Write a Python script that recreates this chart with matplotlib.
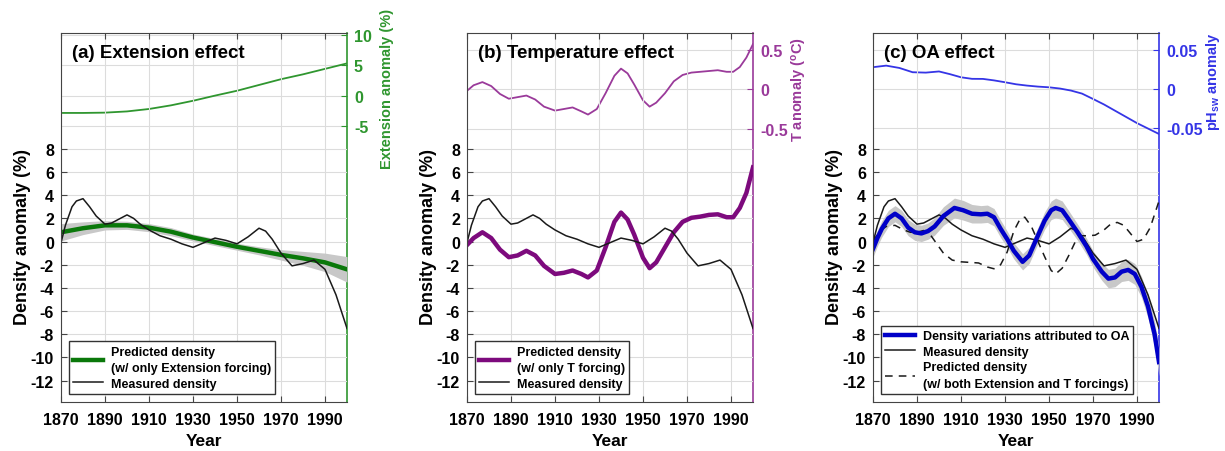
import numpy as np
import matplotlib
matplotlib.use('Agg')
import matplotlib.pyplot as plt

plt.rcParams['font.family'] = ['Liberation Sans', 'DejaVu Sans']
plt.rcParams['font.weight'] = 'bold'
plt.rcParams['axes.labelweight'] = 'bold'
plt.rcParams['axes.unicode_minus'] = False
plt.rcParams['mathtext.fontset'] = 'custom'
plt.rcParams['mathtext.rm'] = 'Liberation Sans:bold'
plt.rcParams['mathtext.bf'] = 'Liberation Sans:bold'
plt.rcParams['mathtext.it'] = 'Liberation Sans:bold'

# measured density (same in all panels)
meas_yr = [1870, 1872, 1875, 1877, 1880, 1883, 1886, 1890, 1893, 1896, 1900, 1903, 1906,
           1910, 1915, 1920, 1925, 1930, 1935, 1940, 1945, 1950, 1955, 1960, 1963, 1966,
           1970, 1975, 1980, 1985, 1990, 1995, 2000]
meas = [-0.1, 1.4, 3.0, 3.5, 3.7, 3.0, 2.2, 1.5, 1.6, 1.9, 2.3, 2.0, 1.5,
        1.0, 0.5, 0.2, -0.2, -0.5, -0.1, 0.3, 0.1, -0.2, 0.4, 1.15, 0.9, 0.2,
        -1.0, -2.1, -1.9, -1.6, -2.4, -4.6, -7.5]

# (a) extension effect
ext_yr = [1870, 1880, 1890, 1900, 1910, 1920, 1930, 1940, 1950, 1960, 1970, 1980, 1990, 2000]
ext_anom = [-2.85, -2.85, -2.8, -2.6, -2.2, -1.6, -0.85, 0.0, 0.8, 1.75, 2.7, 3.5, 4.4, 5.3]
ext_dens = [0.8, 1.15, 1.4, 1.4, 1.2, 0.85, 0.35, -0.05, -0.45, -0.8, -1.15, -1.45, -1.8, -2.4]
ext_err = [0.75, 0.55, 0.4, 0.35, 0.35, 0.35, 0.3, 0.3, 0.3, 0.35, 0.45, 0.6, 0.8, 1.1]

# (b) temperature effect
t_yr = [1870, 1873, 1877, 1881, 1885, 1889, 1893, 1897, 1901, 1905, 1910, 1914, 1918, 1922,
        1925, 1929, 1933, 1937, 1940, 1943, 1946, 1950, 1953, 1956, 1960, 1964, 1968,
        1972, 1976, 1980, 1984, 1988, 1991, 1994, 1997, 2000]
t_anom = [-0.02, 0.05, 0.09, 0.04, -0.06, -0.12, -0.1, -0.08, -0.13, -0.22, -0.27, -0.25,
          -0.23, -0.28, -0.32, -0.25, -0.05, 0.17, 0.26, 0.2, 0.06, -0.14, -0.22, -0.17,
          -0.05, 0.1, 0.18, 0.21, 0.22, 0.23, 0.24, 0.22, 0.22, 0.28, 0.4, 0.57]
t_dens = [-0.3, 0.3, 0.8, 0.3, -0.7, -1.35, -1.2, -0.8, -1.2, -2.1, -2.8, -2.7, -2.5, -2.8,
          -3.1, -2.5, -0.5, 1.7, 2.5, 1.9, 0.6, -1.4, -2.3, -1.8, -0.5, 0.8, 1.7, 2.05,
          2.15, 2.3, 2.35, 2.1, 2.1, 2.9, 4.2, 6.4]

# (c) OA effect
ph_yr = [1870, 1876, 1882, 1888, 1894, 1900, 1905, 1910, 1915, 1920, 1925, 1930, 1935,
         1940, 1945, 1950, 1955, 1960, 1965, 1970, 1975, 1980, 1985, 1990, 1995, 2000]
ph_anom = [0.028, 0.030, 0.027, 0.0215, 0.021, 0.0225, 0.019, 0.015, 0.013, 0.0129, 0.011,
           0.0086, 0.006, 0.0043, 0.003, 0.0021, 0.0005, -0.0021, -0.006, -0.0129, -0.02,
           -0.028, -0.036, -0.044, -0.051, -0.058]
oa_yr = [1870, 1872, 1874, 1877, 1880, 1883, 1886, 1889, 1892, 1895, 1898, 1902, 1907, 1911,
         1915, 1919, 1922, 1925, 1928, 1931, 1934, 1938, 1941, 1944, 1948, 1951, 1953, 1956,
         1959, 1963, 1967, 1970, 1974, 1977, 1980, 1983, 1986, 1989, 1992, 1995, 1998, 2000]
oa_dens = [-0.63, 0.3, 1.1, 2.0, 2.4, 2.0, 1.2, 0.8, 0.7, 0.9, 1.3, 2.2, 2.9, 2.7,
           2.4, 2.35, 2.4, 2.1, 1.1, 0.2, -0.8, -1.75, -1.2, 0.1, 1.8, 2.7, 2.9, 2.7,
           1.9, 0.8, -0.4, -1.5, -2.6, -3.2, -3.1, -2.6, -2.45, -2.8, -3.9, -5.6, -8.0, -10.4]
oa_err = [0.7, 0.7, 0.7, 0.7, 0.7, 0.7, 0.7, 0.7, 0.7, 0.7, 0.75, 0.8, 0.85, 0.85,
          0.8, 0.75, 0.75, 0.75, 0.75, 0.7, 0.7, 0.7, 0.7, 0.7, 0.75, 0.8, 0.85, 0.8,
          0.75, 0.7, 0.7, 0.7, 0.75, 0.8, 0.8, 0.85, 0.9, 0.9, 0.9, 1.0, 1.1, 1.2]
both_yr = [1870, 1873, 1876, 1880, 1884, 1887, 1890, 1893, 1896, 1899, 1902, 1906, 1910,
           1914, 1918, 1922, 1925, 1928, 1931, 1934, 1937, 1939, 1942, 1945, 1948, 1951,
           1953, 1956, 1959, 1962, 1965, 1968, 1971, 1975, 1978, 1981, 1984, 1987, 1990,
           1993, 1996, 2000]
both_dens = [0.0, 0.9, 1.3, 1.4, 1.0, 0.8, 0.8, 0.95, 0.6, -0.2, -1.0, -1.6, -1.75,
             -1.8, -1.85, -2.2, -2.35, -2.0, -0.9, 0.9, 2.0, 2.1, 1.3, 0.0, -1.3, -2.5,
             -2.8, -2.3, -1.2, 0.0, 0.5, 0.5, 0.55, 1.0, 1.5, 1.65, 1.4, 0.7, 0.0,
             0.2, 1.2, 3.5]

left_ticks = list(range(-12, 10, 2))
year_ticks = list(range(1870, 2001, 20))

fig = plt.figure(figsize=(12.25, 4.52), dpi=100)
lefts = [61 / 1225, 467 / 1225, 873 / 1225]
W, B, H = 286 / 1225, 49 / 452, 369 / 452
axes = [fig.add_axes([l, B, W, H]) for l in lefts]

panels = [
    dict(title='(a) Extension effect', col='#2f962f', thick='#0a780a', ylim2=(-50.4, 10.3),
         ticks2=[-5, 0, 5, 10], tlab2=['-5', '0', '5', '10'], lab2='Extension anomaly (%)',
         labx=1.117, laby=0.85),
    dict(title='(b) Temperature effect', col='#9a3a9a', thick='#7d0a7d', ylim2=(-3.95, 0.71),
         ticks2=[-0.5, 0, 0.5], tlab2=['-0.5', '0', '0.5'], lab2=r'T anomaly ($^{\mathbf{o}}$C)',
         labx=1.13, laby=0.85),
    dict(title='(c) OA effect', col='#3535e6', thick='#0000c8', ylim2=(-0.403, 0.072),
         ticks2=[-0.05, 0, 0.05], tlab2=['-0.05', '0', '0.05'], lab2=r'pH$_{\mathbf{sw}}$ anomaly',
         labx=1.157, laby=0.87),
]

legend_kw = dict(loc='lower left', bbox_to_anchor=(0.027, 0.022), borderaxespad=0,
                 fontsize=9, handlelength=2.4, handletextpad=0.6, fancybox=False,
                 edgecolor='#333333', framealpha=1, labelspacing=0.3, borderpad=0.35)

for i, (ax, p) in enumerate(zip(axes, panels)):
    ax2 = ax.twinx()
    ax.set_zorder(1)
    ax.patch.set_visible(False)
    ax2.set_zorder(0)

    ax.set_xlim(1870, 2000)
    ax.set_ylim(-13.85, 18)
    ax.set_yticks(left_ticks)
    ax.set_xticks(year_ticks)
    ax.grid(color='#dcdcdc', lw=0.8)
    ax.set_axisbelow(True)
    ax.tick_params(direction='in', top=True, labelsize=11.5, length=4, color='#444444')
    ax.tick_params(axis='x', pad=7)
    ax.tick_params(axis='y', pad=5)
    for s in ['left', 'top', 'bottom']:
        ax.spines[s].set_color('#444444')
    ax.spines['right'].set_visible(False)

    ax2.set_ylim(*p['ylim2'])
    ax2.set_yticks(p['ticks2'])
    ax2.set_yticklabels(p['tlab2'])
    ax2.grid(axis='y', color='#dcdcdc', lw=0.8)
    ax2.tick_params(direction='in', colors=p['col'], labelsize=11.5, length=4, pad=5)
    for s in ['left', 'top', 'bottom']:
        ax2.spines[s].set_visible(False)
    ax2.spines['right'].set_color(p['col'])
    ax2.spines['right'].set_linewidth(1.2)
    ax2.set_ylabel(p['lab2'], color=p['col'], fontsize=10.5)
    ax2.yaxis.set_label_coords(p['labx'], p['laby'])

    ax.text(0.038, 0.948, p['title'], transform=ax.transAxes, fontsize=13.5,
            fontweight='bold', va='center', ha='left')
    ax.set_xlabel('Year', fontsize=12.5)
    ax.xaxis.set_label_coords(0.5, -0.085)
    ax.set_ylabel('Density anomaly (%)', fontsize=13)
    ax.yaxis.set_label_coords(-0.105, 0.45)

    if i == 0:
        ax2.plot(ext_yr, ext_anom, color=p['col'], lw=1.3)
        lo = np.array(ext_dens) - np.array(ext_err)
        hi = np.array(ext_dens) + np.array(ext_err)
        ax.fill_between(ext_yr, lo, hi, color='#c8c8c8', lw=0)
        h1, = ax.plot(ext_yr, ext_dens, color=p['thick'], lw=3.2)
        h2, = ax.plot(meas_yr, meas, color='#1a1a1a', lw=1.1)
        leg = ax.legend([h1, h2], ['Predicted density\n(w/ only Extension forcing)', 'Measured density'],
                        **legend_kw)
    elif i == 1:
        ax2.plot(t_yr, t_anom, color=p['col'], lw=1.3)
        h1, = ax.plot(t_yr, t_dens, color=p['thick'], lw=3.2)
        h2, = ax.plot(meas_yr, meas, color='#1a1a1a', lw=1.1)
        leg = ax.legend([h1, h2], ['Predicted density\n(w/ only T forcing)', 'Measured density'],
                        **legend_kw)
    else:
        ax2.plot(ph_yr, ph_anom, color=p['col'], lw=1.3)
        lo = np.array(oa_dens) - np.array(oa_err)
        hi = np.array(oa_dens) + np.array(oa_err)
        ax.fill_between(oa_yr, lo, hi, color='#c8c8c8', lw=0)
        h2, = ax.plot(meas_yr, meas, color='#1a1a1a', lw=1.1)
        h3, = ax.plot(both_yr, both_dens, color='#1a1a1a', lw=1.1, ls=(0, (5, 4)))
        h1, = ax.plot(oa_yr, oa_dens, color=p['thick'], lw=3.2)
        leg = ax.legend([h1, h2, h3], ['Density variations attributed to OA', 'Measured density',
                                       'Predicted density\n(w/ both Extension and T forcings)'],
                        **legend_kw)
    leg.get_frame().set_linewidth(1.0)
    for t in leg.get_texts():
        t.set_linespacing(1.45)

fig.savefig('out.png', dpi=100)
